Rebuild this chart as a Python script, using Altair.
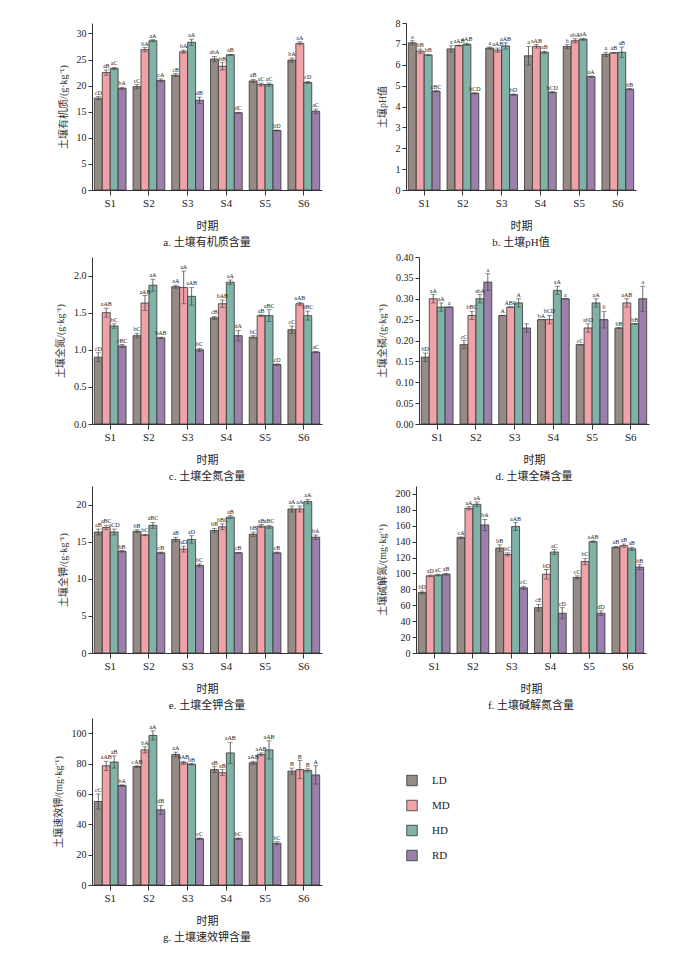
import altair as alt
import pandas as pd

periods = ["S1", "S2", "S3", "S4", "S5", "S6"]
groups = ["LD", "MD", "HD", "RD"]
colors = ["#958a85", "#f0a2a9", "#80b2a7", "#9a80aa"]

som = [17.6, 22.5, 23.3, 19.5, 19.8, 26.9, 28.6, 21.0, 22.0, 26.5, 28.3, 17.2,
       25.1, 23.7, 25.9, 14.8, 20.9, 20.2, 20.2, 11.4, 24.9, 28.1, 20.6, 15.1]
som_err = [.3, .5, .2, .2, .4, .4, .2, .3, .3, .3, .6, .6,
           .5, .7, .1, .1, .3, .3, .3, .1, .4, .3, .2, .4]
som_lab = ["cD", "aB", "aC", "bA", "cC", "bA", "aA", "cA", "cB", "bA", "aA", "dB",
           "abA", "bB", "aB", "dC", "aB", "aC", "aC", "bD", "bA", "aA", "cD", "aC"]

ph = [7.05, 6.65, 6.47, 4.73, 6.76, 6.92, 6.98, 4.63, 6.8, 6.7, 6.9, 4.57,
      6.43, 6.88, 6.6, 4.68, 6.87, 7.15, 7.22, 5.43, 6.5, 6.57, 6.6, 4.83]
ph_err = [.1, .1, .03, .03, .15, .02, .05, .03, .05, .1, .15, .03,
          .45, .08, .05, .03, .1, .1, .05, .03, .1, .02, .25, .03]
ph_lab = ["a", "bB", "bB", "cBC", "a", "aAB", "aAB", "bCD", "a", "aAB", "aAB", "bD",
          "a", "aAB", "aB", "bCD", "b", "abA", "aA", "aA", "a", "aB", "aB", "bB"]

tn = [0.90, 1.50, 1.32, 1.05, 1.19, 1.63, 1.87, 1.16, 1.85, 1.84, 1.72, 1.00,
      1.43, 1.62, 1.91, 1.19, 1.17, 1.46, 1.46, 0.80, 1.27, 1.62, 1.46, 0.97]
tn_err = [.06, .06, .03, .02, .03, .1, .08, .01, .02, .22, .12, .02,
          .02, .05, .03, .07, .02, .01, .08, .01, .05, .02, .06, .01]
tn_lab = ["cD", "aAB", "bC", "cBC", "bC", "aAB", "aA", "bAB", "aA", "aA", "aAB", "bC",
          "cB", "bAB", "aA", "dA", "bC", "aB", "aBC", "cD", "cC", "aAB", "bBC", "aC"]

tp = [.16, .30, .28, .28, .19, .26, .30, .34, .26, .28, .29, .23,
      .25, .25, .32, .30, .19, .23, .29, .25, .23, .29, .24, .30]
tp_err = [.01, .01, .01, 0, .01, .01, .01, .02, 0, 0, .01, .01,
          0, .01, .01, 0, 0, .01, .01, .02, 0, .01, 0, .03]
tp_lab = ["bD", "aA", "aA", "a", "cC", "bBC", "abA", "a", "A", "ABC", "A", "",
          "bA", "bCD", "aA", "a", "cC", "abD", "aA", "b", "bB", "aAB", "bB", "a"]

tk = [16.3, 16.9, 16.3, 13.7, 16.4, 15.9, 17.2, 13.5, 15.3, 14.0, 15.3, 11.8,
      16.5, 17.0, 18.3, 13.5, 16.0, 17.1, 17.0, 13.5, 19.4, 19.4, 20.4, 15.6]
tk_err = [.4, .3, .4, .1, .2, .1, .4, .1, .3, .4, .5, .2,
          .3, .4, .2, .05, .3, .2, .2, .1, .4, .4, .3, .3]
tk_lab = ["aB", "aBC", "aCD", "bB", "bB", "bC", "aBC", "cB", "aB", "aD", "aD", "bC",
          "bB", "bBC", "aB", "cB", "bB", "aB", "aBC", "cB", "aA", "aA", "aA", "bA"]

an = [76, 97, 98, 99, 145, 182, 187, 161, 132, 124, 159, 82,
      57, 99, 127, 50, 95, 115, 140, 50, 133, 135, 131, 108]
an_err = [2, 1, 1, 1, 1, 2, 3, 7, 4, 2, 5, 2,
          4, 6, 3, 7, 2, 4, 1, 3, 1, 2, 2, 3]
an_lab = ["bD", "aD", "aC", "aB", "cA", "aA", "aA", "bA", "bB", "bC", "aAB", "cC",
          "cE", "bD", "aC", "cD", "cC", "bC", "aAB", "dD", "aB", "aB", "aB", "bB"]

ak = [55, 78.5, 81, 65.5, 78, 89, 98.5, 49.5, 86, 80.5, 79.5, 30.5,
      76, 74, 87, 30.5, 80.5, 86, 89, 27.5, 75, 76, 75.5, 72.5]
ak_err = [5, 3, 4, .5, .5, 2, 3, 3, 1.5, 1, .5, .5,
          2, 2, 7, .5, 1, 1, 6, 1, 2, 6, 1, 6]
ak_lab = ["cC", "aAB", "aB", "bA", "cAB", "bA", "aA", "dB", "aA", "bAB", "bB", "cC",
          "aB", "aB", "aAB", "bC", "aAB", "aAB", "aAB", "bC", "B", "B", "B", "A"]

FONT = "Liberation Serif, Noto Sans CJK SC"
W, H = 230, 167


def panel(vals, errs, labs, ytitle, caption, ymax, step, fmt):
    rows = []
    for i, v in enumerate(vals):
        rows.append({"period": periods[i // 4], "group": groups[i % 4], "v": v,
                     "lo": v - errs[i], "hi": v + errs[i], "lab": labs[i]})
    df = pd.DataFrame(rows)
    ticks = [round(step * k, 4) for k in range(int(ymax / step + 1e-9) + 1)]
    x = alt.X("period:N", sort=periods, title="时期",
              scale=alt.Scale(paddingInner=0.18, paddingOuter=0.06),
              axis=alt.Axis(labelAngle=0, labelFontSize=11, titleFontSize=11,
                            titleFontWeight="normal", titlePadding=12,
                            domainColor="#333", tickColor="#333",
                            labelColor="#222", titleColor="#222"))
    xo = alt.XOffset("group:N", sort=groups)
    yscale = alt.Scale(domain=[0, ymax], nice=False)
    yaxis = alt.Axis(values=ticks, format=fmt, grid=False, labelFontSize=10,
                     labelOverlap=False, titleFontSize=10, titlePadding=8,
                     titleFontWeight="normal", domainColor="#333",
                     tickColor="#333", labelColor="#222",
                     titleColor="#333", tickSize=4)

    def yf(field):
        return alt.Y(field, title=ytitle, scale=yscale, axis=yaxis)

    base = alt.Chart(df)
    bars = base.mark_bar(stroke="#333", strokeWidth=0.8).encode(
        x=x, xOffset=xo, y=yf("v:Q"),
        color=alt.Color("group:N", sort=groups,
                        scale=alt.Scale(domain=groups, range=colors), legend=None))
    err = base.mark_rule(color="#444", strokeWidth=0.8).encode(
        x=x, xOffset=xo, y=yf("lo:Q"), y2="hi:Q")
    caps = base.mark_tick(color="#444", size=5, thickness=0.8).encode(
        x=x, xOffset=xo, y=yf("hi:Q"))
    caps2 = base.mark_tick(color="#444", size=5, thickness=0.8).encode(
        x=x, xOffset=xo, y=yf("lo:Q"))
    txt = base.mark_text(fontSize=6, dy=-4, color="#222").encode(
        x=x, xOffset=xo, y=yf("hi:Q"), text="lab:N")
    return alt.layer(bars, err, caps, caps2, txt).properties(
        width=W, height=H,
        title=alt.TitleParams(caption, orient="bottom", fontSize=11,
                              fontWeight="normal", offset=6, color="#222"))


a = panel(som, som_err, som_lab, "土壤有机质/(g·kg⁻¹)", "a. 土壤有机质含量", 32, 5, "d")
b = panel(ph, ph_err, ph_lab, "土壤pH值", "b. 土壤pH值", 8, 1, "d")
c = panel(tn, tn_err, tn_lab, "土壤全氮/(g·kg⁻¹)", "c. 土壤全氮含量", 2.25, 0.5, ".1f")
d = panel(tp, tp_err, tp_lab, "土壤全磷/(g·kg⁻¹)", "d. 土壤全磷含量", 0.4, 0.05, ".2f")
e = panel(tk, tk_err, tk_lab, "土壤全钾/(g·kg⁻¹)", "e. 土壤全钾含量", 22.5, 5, "d")
f = panel(an, an_err, an_lab, "土壤碱解氮/(mg·kg⁻¹)", "f. 土壤碱解氮含量", 210, 20, "d")
g = panel(ak, ak_err, ak_lab, "土壤速效钾/(mg·kg⁻¹)", "g. 土壤速效钾含量", 110, 20, "d")

leg_df = pd.DataFrame({"group": groups})
legend = alt.Chart(leg_df).mark_square(size=110, stroke="#333", strokeWidth=0.8,
                                       opacity=1).encode(
    y=alt.Y("group:N", sort=groups, axis=None),
    x=alt.value(35),
    color=alt.Color("group:N", sort=groups,
                    scale=alt.Scale(domain=groups, range=colors), legend=None),
) + alt.Chart(leg_df).mark_text(align="left", fontSize=11, color="#222").encode(
    y=alt.Y("group:N", sort=groups, axis=None),
    x=alt.value(55), text="group:N")
legend = legend.properties(width=W, height=100)

spacer = alt.Chart(leg_df).mark_point(opacity=0).encode(
    y=alt.value(0)).properties(width=W, height=50)

chart = alt.vconcat(
    alt.hconcat(a, b, spacing=55),
    alt.hconcat(c, d, spacing=55),
    alt.hconcat(e, f, spacing=55),
    alt.hconcat(g, alt.vconcat(spacer, legend, spacing=0), spacing=55),
    spacing=4,
).properties(padding={"left": 45, "top": 10, "right": 5, "bottom": 5}
).configure(font=FONT).configure_view(strokeWidth=0)

chart.save("out.html", embed_options={"renderer": "svg", "actions": False})
